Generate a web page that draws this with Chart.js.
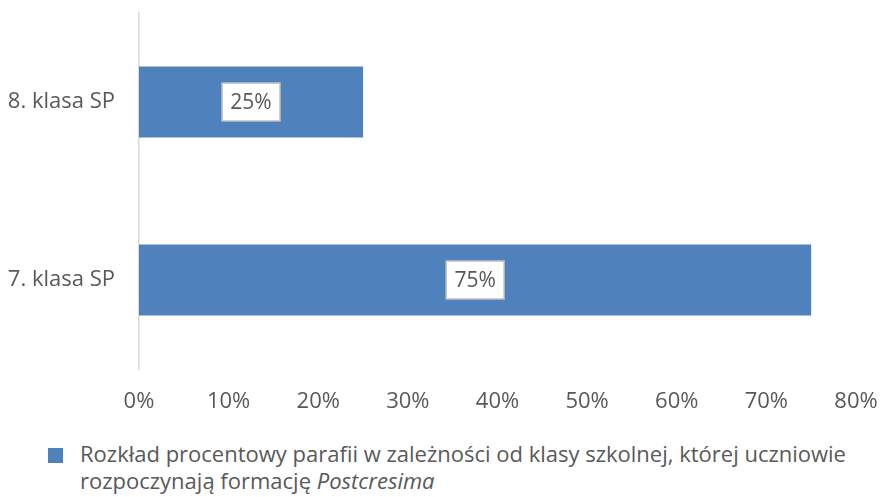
<!DOCTYPE html>
<html>
<head>
<meta charset="utf-8">
<script src="https://cdn.jsdelivr.net/npm/chart.js@4"></script>
<style>
  body { margin: 0; background: #fff; }
  #wrap { position: relative; width: 880px; height: 497px; }
  #chart { position: absolute; left: 0; top: 0; }
  #legend {
    position: absolute; left: 48px; top: 440px; width: 830px;
    font-family: "Open Sans", sans-serif; font-size: 22px; line-height: 27px; color: #595959;
  }
  #legend .box { position: absolute; left: 0; top: 8px; width: 15px; height: 15px; background: #4f81bd; }
  #legend .txt { margin-left: 32px; white-space: nowrap; }
</style>
</head>
<body>
<div id="wrap">
  <canvas id="chart" width="880" height="430"></canvas>
  <div id="legend"><span class="box"></span><div class="txt">Rozkład procentowy parafii w zależności od klasy szkolnej, której uczniowie<br>rozpoczynają formację <i>Postcresima</i></div></div>
</div>
<script>
// Chart data
const categories = ['8. klasa SP', '7. klasa SP'];
const values = [25, 75];
const xTicks = [0, 10, 20, 30, 40, 50, 60, 70, 80];

Chart.defaults.font.family = '"Open Sans", sans-serif';
Chart.defaults.color = '#595959';

// Boxed value labels in the middle of each bar
const boxLabels = {
  id: 'boxLabels',
  afterDatasetsDraw(chart) {
    const ctx = chart.ctx;
    const meta = chart.getDatasetMeta(0);
    ctx.save();
    ctx.font = '21px "Open Sans", sans-serif';
    ctx.textAlign = 'center';
    ctx.textBaseline = 'middle';
    meta.data.forEach((bar, i) => {
      const text = values[i] + '%';
      const cx = (bar.x + bar.base) / 2;
      const cy = bar.y;
      const w = 58, h = 38;
      ctx.fillStyle = '#fff';
      ctx.fillRect(cx - w / 2, cy - h / 2, w, h);
      ctx.strokeStyle = '#bfbfbf';
      ctx.lineWidth = 1.5;
      ctx.strokeRect(cx - w / 2, cy - h / 2, w, h);
      ctx.fillStyle = '#595959';
      ctx.fillText(text, cx, cy + 1);
    });
    ctx.restore();
  }
};

new Chart(document.getElementById('chart'), {
  type: 'bar',
  data: {
    labels: categories,
    datasets: [{
      label: 'Rozkład procentowy parafii',
      data: values,
      backgroundColor: '#4f81bd',
      categoryPercentage: 1,
      barPercentage: 0.4
    }]
  },
  options: {
    indexAxis: 'y',
    responsive: false,
    animation: false,
    layout: { padding: { top: 13, right: 24, left: 0, bottom: 0 } },
    plugins: {
      legend: { display: false },
      tooltip: { enabled: false }
    },
    scales: {
      x: {
        min: 0,
        max: 80,
        afterBuildTicks: function(scale) {
          scale.ticks = xTicks.map(v => ({ value: v }));
        },
        afterFit: function(scale) {
          scale.height = 61;
          scale.paddingLeft = 0;
          scale.paddingRight = 0;
        },
        grid: { display: false, drawTicks: false },
        border: { display: false },
        ticks: {
          padding: 20,
          font: { size: 22 },
          callback: function(value) { return value + '%'; }
        }
      },
      y: {
        afterFit: function(scale) {
          scale.width = 139;
          scale.paddingTop = 0;
          scale.paddingBottom = 0;
        },
        grid: { display: false, drawTicks: false },
        border: { display: true, color: '#d9d9d9', width: 1.5 },
        ticks: {
          padding: 24,
          font: { size: 22 }
        }
      }
    }
  },
  plugins: [boxLabels]
});
</script>
</body>
</html>
